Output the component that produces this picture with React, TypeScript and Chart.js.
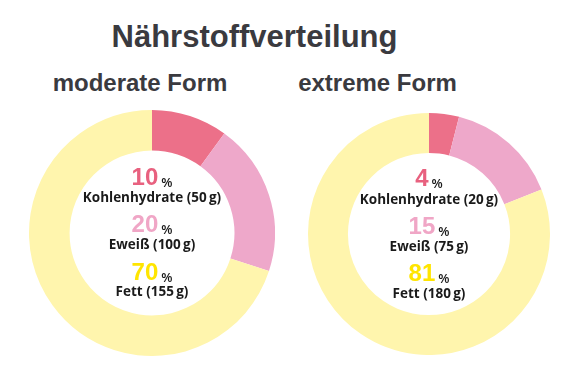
import React, { useEffect, useRef } from "react";
import { Chart, registerables } from "chart.js";

Chart.register(...registerables);

// ---- data ----
const mainTitle = "Nährstoffverteilung";
const chartTitles = ["moderate Form", "extreme Form"];
const categories = ["Kohlenhydrate", "Eweiß", "Fett"];
const moderatePercent = [10, 20, 70];
const moderateGrams = [50, 100, 155];
const extremePercent = [4, 15, 81];
const extremeGrams = [20, 75, 180];

// ---- styles ----
const segmentColors = ["#EC7089", "#EEA8CA", "#FFF5AD"];
const numberColors = ["#E8617F", "#F0A6C6", "#FFE500"];
const darkText = "#3a3a3f";

const LIB = "'Liberation Sans', Arial, sans-serif";
const OPEN = "'Open Sans', 'Noto Sans', sans-serif";
const ASC_LIB = 0.8465;
const ASC_OPEN = 0.888;

type TextProps = {
  cx: number;
  baseline: number;
  size: number;
  family: string;
  asc: number;
  weight?: number | string;
  color?: string;
  spacing?: number;
  children: React.ReactNode;
};

function CText({ cx, baseline, size, family, asc, weight = 700, color = darkText, spacing = 0, children }: TextProps) {
  return (
    <div
      style={{
        position: "absolute",
        left: cx - 200,
        width: 400,
        top: baseline - asc * size,
        textAlign: "center",
        fontFamily: family,
        fontSize: size,
        lineHeight: `${size}px`,
        fontWeight: weight as any,
        color,
        letterSpacing: spacing,
        whiteSpace: "nowrap",
      }}
    >
      {children}
    </div>
  );
}

function Donut({ values, cx, cy, r }: { values: number[]; cx: number; cy: number; r: number }) {
  const ref = useRef<HTMLCanvasElement | null>(null);
  useEffect(() => {
    const chart = new Chart(ref.current as HTMLCanvasElement, {
      type: "doughnut",
      data: {
        labels: categories,
        datasets: [
          {
            data: values,
            backgroundColor: segmentColors,
            borderWidth: 0,
            hoverOffset: 0,
          },
        ],
      },
      options: {
        responsive: false,
        maintainAspectRatio: false,
        animation: false,
        cutout: "67%",
        events: [],
        layout: { padding: 0 },
        plugins: { legend: { display: false }, tooltip: { enabled: false }, title: { display: false } },
      },
    });
    return () => chart.destroy();
  }, []);
  return (
    <canvas
      ref={ref}
      width={2 * r}
      height={2 * r}
      style={{ position: "absolute", left: cx - r, top: cy - r, width: 2 * r, height: 2 * r }}
    />
  );
}

function CenterLabels({ cx, cy, percents, grams }: { cx: number; cy: number; percents: number[]; grams: number[] }) {
  const digitSize = 24;
  return (
    <>
      {categories.map((cat, i) => {
        const dBase = cy - 47.5 + i * 47.5;
        const lBase = cy - 29.5 + i * 47;
        return (
          <React.Fragment key={cat}>
            <div
              style={{
                position: "absolute",
                left: cx - 100,
                width: 200,
                top: dBase - ASC_LIB * digitSize,
                textAlign: "center",
                fontFamily: LIB,
                fontSize: digitSize,
                lineHeight: `${digitSize}px`,
                fontWeight: 700,
                whiteSpace: "nowrap",
              }}
            >
              <span style={{ color: numberColors[i] }}>{percents[i]}</span>
              <span
                style={{
                  fontFamily: OPEN,
                  fontSize: 13,
                  lineHeight: "13px",
                  fontWeight: 600,
                  color: "#1a1a1a",
                  marginLeft: 3,
                  position: "relative",
                  top: 2,
                }}
              >
                %
              </span>
            </div>
            <CText cx={cx} baseline={lBase} size={13.5} family={OPEN} asc={ASC_OPEN} weight={700} color="#1a1a1a">
              {`${cat} (${grams[i]}\u2009g)`}
            </CText>
          </React.Fragment>
        );
      })}
    </>
  );
}

export default function App() {
  const left = { cx: 152, cy: 232.5, r: 123 };
  const right = { cx: 429, cy: 234, r: 121 };
  return (
    <div
      style={{
        position: "absolute",
        left: 0,
        top: 0,
        width: 580,
        height: 370,
        background: "#ffffff",
        overflow: "hidden",
      }}
    >
      <CText cx={254.5} baseline={47} size={31} family={LIB} asc={ASC_LIB}>
        {mainTitle}
      </CText>
      <CText cx={140} baseline={91} size={24} family={LIB} asc={ASC_LIB}>
        {chartTitles[0]}
      </CText>
      <CText cx={377.5} baseline={91} size={24} family={LIB} asc={ASC_LIB}>
        {chartTitles[1]}
      </CText>
      <Donut values={moderatePercent} cx={left.cx} cy={left.cy} r={left.r} />
      <Donut values={extremePercent} cx={right.cx} cy={right.cy} r={right.r} />
      <CenterLabels cx={left.cx} cy={left.cy} percents={moderatePercent} grams={moderateGrams} />
      <CenterLabels cx={right.cx} cy={right.cy} percents={extremePercent} grams={extremeGrams} />
    </div>
  );
}
